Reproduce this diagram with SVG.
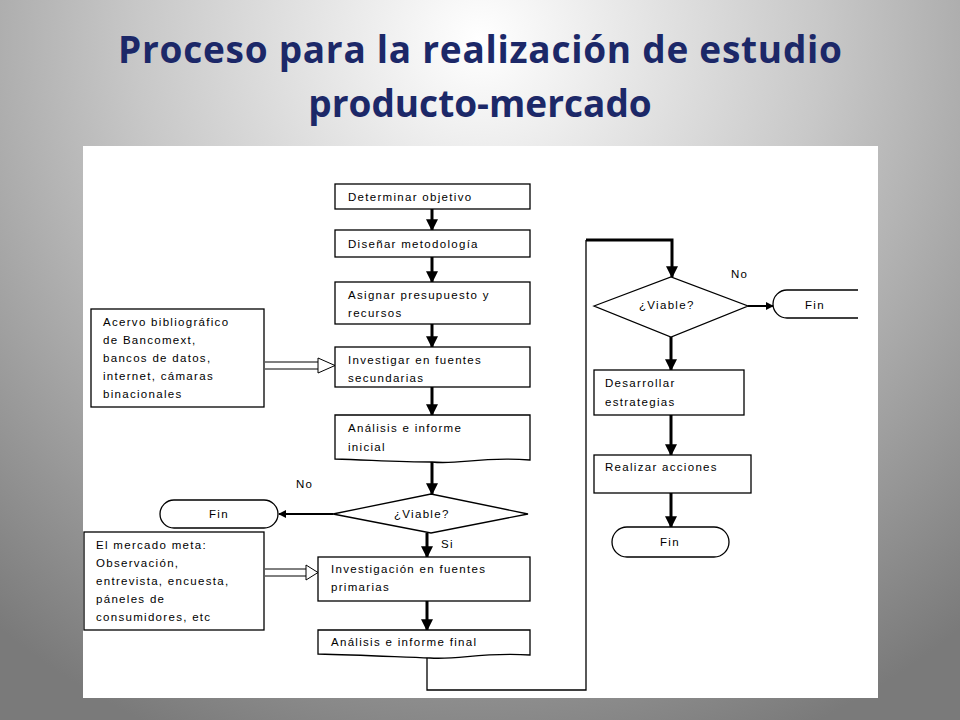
<svg xmlns="http://www.w3.org/2000/svg" width="960" height="720" viewBox="0 0 960 720">
<defs>
<radialGradient id="bg" cx="480" cy="40" r="760" gradientUnits="userSpaceOnUse">
<stop offset="0" stop-color="#ffffff"/><stop offset="0.45" stop-color="#c8c8c8"/><stop offset="1" stop-color="#7a7a7a"/>
</radialGradient>
<marker id="ah" viewBox="0 0 10 10" refX="9" refY="5" markerWidth="4" markerHeight="4" orient="auto"><path d="M0,0 L10,5 L0,10 z" fill="#000"/></marker>
</defs>
<style>
.b{fill:#fff;stroke:#000;stroke-width:1.3}
.t{font-family:"Liberation Sans",Arial,sans-serif;font-size:11.5px;letter-spacing:1.3px;fill:#000}
.c{stroke:#000;fill:none}
.thick{stroke-width:3}
.h{font-family:"Open Sans","Liberation Sans",sans-serif;font-weight:bold;font-size:37px;fill:#1c2868}
</style>
<rect width="960" height="720" fill="url(#bg)"/>
<text class="h" x="480" y="63" text-anchor="middle" textLength="724">Proceso para la realización de estudio</text>
<text class="h" x="480" y="117" text-anchor="middle">producto-mercado</text>
<rect x="83" y="146" width="795" height="552" fill="#fff"/>

<g id="connectors">
<g class="c thick" marker-end="url(#ah)">
<line x1="432" y1="209" x2="432" y2="230"/>
<line x1="432" y1="257" x2="432" y2="282"/>
<line x1="432" y1="324" x2="432" y2="347"/>
<line x1="432" y1="387" x2="432" y2="415"/>
<line x1="432" y1="462" x2="432" y2="494"/>
<line x1="333" y1="514" x2="279" y2="514" stroke-width="2"/>
<line x1="427" y1="533" x2="427" y2="557"/>
<line x1="427" y1="601" x2="427" y2="630"/>
<line x1="671" y1="337" x2="671" y2="370"/>
<line x1="671" y1="415" x2="671" y2="455"/>
<line x1="671" y1="493" x2="671" y2="527"/>
<line x1="748" y1="306" x2="773" y2="306" stroke-width="2"/>
</g>
<polyline class="c" stroke-width="1.3" points="427,657 427,690 586,690 586,240"/>
<polyline class="c thick" points="586,240 672,240 672,277" marker-end="url(#ah)"/>
<g class="c" stroke-width="1">
<line x1="265" y1="362" x2="318" y2="362"/><line x1="265" y1="369" x2="318" y2="369"/>
<line x1="265" y1="569" x2="306" y2="569"/><line x1="265" y1="576" x2="306" y2="576"/>
</g>
<path d="M318,358 L335,365.5 L318,373 Z" fill="#fff" stroke="#000"/>
<path d="M306,565 L318,572.5 L306,580 Z" fill="#fff" stroke="#000"/>
<text class="t" x="296" y="488">No</text>
<text class="t" x="441" y="548">Si</text>
<text class="t" x="731" y="278">No</text>
</g>

<g id="n1"><rect class="b" x="335" y="184" width="195" height="25"/><text class="t" x="348" y="201">Determinar objetivo</text></g>
<g id="n2"><rect class="b" x="335" y="230" width="195" height="27"/><text class="t" x="348" y="248">Diseñar metodología</text></g>
<g id="n3"><rect class="b" x="335" y="282" width="195" height="42"/><text class="t" x="348" y="299">Asignar presupuesto y</text><text class="t" x="348" y="317">recursos</text></g>
<g id="n4"><rect class="b" x="335" y="347" width="195" height="40"/><text class="t" x="348" y="364">Investigar en fuentes</text><text class="t" x="348" y="382">secundarias</text></g>
<g id="n5"><path class="b" d="M335,415 H530 V460 C480,456 460,465 432,462 C400,462 370,460 335,459 Z"/><text class="t" x="348" y="432">Análisis e informe</text><text class="t" x="348" y="451">inicial</text></g>
<g id="src1"><rect class="b" x="91" y="309" width="173" height="98"/><text class="t" x="103" y="326">Acervo bibliográfico</text><text class="t" x="103" y="344">de Bancomext,</text><text class="t" x="103" y="362">bancos de datos,</text><text class="t" x="103" y="380">internet, cámaras</text><text class="t" x="103" y="398">binacionales</text></g>
<g id="d1"><path class="b" d="M333,514 L431,494 L528,514 L431,533 Z"/><text class="t" x="394" y="518">¿Viable?</text></g>
<g id="fin1"><rect class="b" x="160" y="500" width="118" height="28" rx="14"/><text class="t" x="219" y="518" text-anchor="middle">Fin</text></g>
<g id="src2"><rect class="b" x="84" y="532" width="180" height="98"/><text class="t" x="96" y="549">El mercado meta:</text><text class="t" x="96" y="567">Observación,</text><text class="t" x="96" y="585">entrevista, encuesta,</text><text class="t" x="96" y="603">páneles de</text><text class="t" x="96" y="621">consumidores, etc</text></g>
<g id="n6"><rect class="b" x="318" y="557" width="212" height="44"/><text class="t" x="331" y="573">Investigación en fuentes</text><text class="t" x="331" y="591">primarias</text></g>
<g id="n7"><path class="b" d="M318,630 H530 V655 C480,652 460,660 430,658 C400,657 360,655 318,654 Z"/><text class="t" x="331" y="646">Análisis e informe final</text></g>
<g id="d2"><path class="b" d="M594,306 L671,277 L748,306 L671,337 Z"/><text class="t" x="639" y="309">¿Viable?</text></g>
<g id="fin2"><path class="b" d="M858,290 H787 A14,14 0 0 0 787,318 H858"/><text class="t" x="815" y="309" text-anchor="middle">Fin</text></g>
<g id="n8"><rect class="b" x="594" y="370" width="150" height="45"/><text class="t" x="605" y="387">Desarrollar</text><text class="t" x="605" y="406">estrategias</text></g>
<g id="n9"><rect class="b" x="594" y="455" width="157" height="38"/><text class="t" x="605" y="471">Realizar acciones</text></g>
<g id="fin3"><rect class="b" x="612" y="527" width="117" height="30" rx="15"/><text class="t" x="670" y="546" text-anchor="middle">Fin</text></g>
</svg>
